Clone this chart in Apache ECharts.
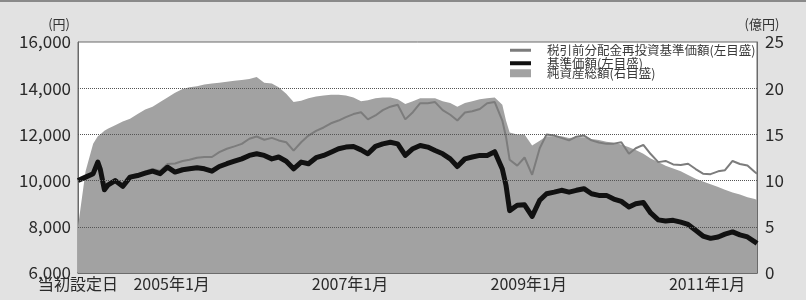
<!DOCTYPE html>
<html>
<head>
<meta charset="utf-8">
<script src="https://cdn.jsdelivr.net/npm/echarts@6/dist/echarts.min.js"></script>
<style>
  html, body { margin: 0; padding: 0; background: #e2e2e2; }
  #chart { width: 806px; height: 300px; }
</style>
</head>
<body>
<div id="chart"></div>
<script>
// 日付（月次＋主な転換点）
const dates = [
  '2003-12-15', '2004-01-15', '2004-02-15', '2004-03-05', '2004-03-15', '2004-04-01', '2004-04-15', '2004-05-15',
  '2004-06-15', '2004-07-15', '2004-08-15', '2004-09-15', '2004-10-15', '2004-11-15', '2004-12-15',
  '2005-01-15', '2005-02-15', '2005-03-15', '2005-04-15', '2005-05-15', '2005-06-15', '2005-07-15',
  '2005-08-15', '2005-09-15', '2005-10-15', '2005-11-15', '2005-12-15',
  '2006-01-15', '2006-02-15', '2006-03-15', '2006-04-15', '2006-05-15', '2006-06-15', '2006-07-15',
  '2006-08-15', '2006-09-15', '2006-10-15', '2006-11-15', '2006-12-15',
  '2007-01-15', '2007-02-15', '2007-03-15', '2007-04-15', '2007-05-15', '2007-06-15', '2007-07-15',
  '2007-08-15', '2007-09-15', '2007-10-15', '2007-11-15', '2007-12-15',
  '2008-01-15', '2008-02-15', '2008-03-15', '2008-04-15', '2008-05-15', '2008-06-15', '2008-07-15',
  '2008-08-15', '2008-09-15', '2008-09-30', '2008-10-15', '2008-11-15', '2008-12-15',
  '2009-01-15', '2009-02-15', '2009-03-15', '2009-04-15', '2009-05-15', '2009-06-15', '2009-07-15',
  '2009-08-15', '2009-09-15', '2009-10-15', '2009-11-15', '2009-12-15',
  '2010-01-15', '2010-02-15', '2010-03-15', '2010-04-15', '2010-05-15', '2010-06-15', '2010-07-15',
  '2010-08-15', '2010-09-15', '2010-10-15', '2010-11-15', '2010-12-15',
  '2011-01-15', '2011-02-15', '2011-03-15', '2011-04-15', '2011-05-15', '2011-06-15', '2011-07-15', '2011-07-24'
];

// 基準価額（円、左目盛）
const navValues = [
  10000, 10150, 10300, 10800, 10500, 9600, 9800, 10000,
  9750, 10150, 10220, 10320, 10410, 10300, 10580,
  10370, 10470, 10510, 10560, 10510, 10410, 10610,
  10730, 10840, 10940, 11090, 11160,
  11090, 10940, 11020, 10840, 10510, 10800, 10730,
  10990, 11090, 11230, 11380, 11450,
  11480, 11330, 11160, 11480, 11590, 11660, 11590,
  11090, 11380, 11520, 11450, 11300,
  11160, 10940, 10610, 10940, 11020, 11090, 11090,
  11250, 10500, 9800, 8700, 8930, 8950,
  8450, 9150, 9430, 9500, 9580, 9500, 9580,
  9650, 9430, 9360, 9360, 9200,
  9100, 8860, 9000, 9050, 8600, 8300, 8250,
  8280, 8200, 8100, 7850, 7600,
  7500, 7560, 7680, 7780, 7650, 7560, 7350, 7280
];

// 税引前分配金再投資基準価額（円、左目盛）
const reinvestValues = [
  10000, 10150, 10320, 10820, 10520, 9620, 9830, 10040,
  9800, 10200, 10280, 10400, 10500, 10420, 10720,
  10740, 10850, 10900, 10990, 11020, 11020, 11230,
  11380, 11480, 11590, 11810, 11910,
  11770, 11850, 11740, 11660, 11300, 11660, 11950,
  12150, 12300, 12480, 12600, 12750,
  12880, 12960, 12650, 12820, 13050, 13200, 13280,
  12650, 12960, 13350, 13350, 13400,
  13050, 12850, 12600, 12950, 13000, 13100, 13350,
  13400, 12600, 11900, 10900, 10650, 11000,
  10250, 11400, 12000, 11950, 11850, 11740, 11900,
  11950, 11740, 11650, 11590, 11600,
  11660, 11160, 11400, 11550, 11150, 10800, 10850,
  10700, 10680, 10730, 10500, 10300,
  10280, 10400, 10450, 10850, 10720, 10650, 10370, 10300
];

// 純資産総額（億円、右目盛）
const netAssets = [
  5.0, 11.0, 14.0, 14.8, 15.0, 15.4, 15.6, 16.0,
  16.4, 16.7, 17.2, 17.7, 18.0, 18.5, 19.0,
  19.5, 19.9, 20.1, 20.2, 20.4, 20.5, 20.6,
  20.7, 20.8, 20.9, 21.0, 21.2,
  20.6, 20.5, 20.1, 19.4, 18.5, 18.65, 18.9,
  19.1, 19.2, 19.3, 19.3, 19.2,
  19.0, 18.6, 18.7, 18.9, 19.0, 19.0, 18.8,
  18.3, 18.6, 18.9, 18.9, 18.9,
  18.6, 18.4, 18.0, 18.4, 18.6, 18.8, 18.9,
  19.0, 18.2, 16.5, 15.2, 15.0, 15.0,
  13.8, 14.3, 14.8, 14.8, 14.8, 14.6, 14.7,
  14.7, 14.5, 14.4, 14.2, 14.1,
  13.9, 13.6, 13.3, 12.9, 12.4, 12.0, 11.6,
  11.3, 11.0, 10.6, 10.2, 9.9,
  9.6, 9.3, 9.0, 8.7, 8.5, 8.2, 8.0, 7.9
];

// x軸ラベル
const xLabelDates = ['2003-12-15', '2005-01-01', '2007-01-01', '2009-01-01', '2011-01-01'];
const xLabelTexts = ['当初設定日', '2005年1月', '2007年1月', '2009年1月', '2011年1月'];
const xTickDates = ['2005-01-01', '2007-01-01', '2009-01-01', '2011-01-01'];
const xStart = '2003-12-15';
const xEnd = '2011-07-24';
// 目盛線（左目盛）
const gridValues = [8000, 10000, 12000, 14000];

const seriesNames = ['税引前分配金再投資基準価額(左目盛)', '基準価額(左目盛)', '純資産総額(右目盛)'];

const ts = d => echarts.number.parseDate(d).getTime();
const labelMap = {};
xLabelDates.forEach((d, i) => { labelMap[ts(d)] = xLabelTexts[i]; });

const FONT = '"Noto Sans CJK JP", sans-serif';
const chart = echarts.init(document.getElementById('chart'));

function legendRow(name, top, h) {
  return {
    data: [{ name: name, icon: 'rect' }],
    left: 510, top: top, padding: 0,
    itemWidth: 21, itemHeight: h, itemGap: 0,
    selectedMode: false,
    textStyle: { fontFamily: FONT, fontSize: 12.5, color: '#3a3a3a', padding: [0, 0, 0, 11] }
  };
}

chart.setOption({
  backgroundColor: '#e2e2e2',
  animation: false,
  graphic: [{
    type: 'rect', silent: true,
    shape: { x: 0, y: 0, width: 806, height: 2 },
    style: { fill: '#8a8a8a' }
  }],
  legend: [
    legendRow(seriesNames[0], 44, 3),
    legendRow(seriesNames[1], 57, 4),
    legendRow(seriesNames[2], 67, 8)
  ],
  grid: {
    left: 78, right: 49, top: 42, bottom: 27,
    show: true, backgroundColor: '#ffffff', borderColor: '#6a6a6a', borderWidth: 1
  },
  xAxis: {
    type: 'value',
    min: ts(xStart),
    max: ts(xEnd),
    axisLine: { show: true, lineStyle: { color: '#5a5a5a', width: 1.5 } },
    axisTick: {
      show: true, inside: true, length: 5,
      customValues: xTickDates.map(ts),
      lineStyle: { color: '#444', width: 1 }
    },
    axisLabel: {
      customValues: xLabelDates.map(ts),
      formatter: v => labelMap[v] || '',
      fontFamily: FONT, fontSize: 16, color: '#2a2a2a', margin: 3,
      showMinLabel: true, hideOverlap: false
    },
    splitLine: { show: false }
  },
  yAxis: [{
    type: 'value', min: 6000, max: 16000, interval: 2000,
    name: '(円)', nameLocation: 'end', nameGap: 11,
    nameTextStyle: { fontFamily: FONT, fontSize: 13, color: '#333', align: 'right', padding: [0, 8, 0, 0] },
    axisLine: { show: true, lineStyle: { color: '#6a6a6a' } },
    axisTick: { show: false },
    axisLabel: {
      fontFamily: FONT, fontSize: 17, color: '#2a2a2a', margin: 7,
      formatter: v => v.toLocaleString('en-US')
    },
    splitLine: { show: false }
  }, {
    type: 'value', min: 0, max: 25, interval: 5,
    name: '(億円)', nameLocation: 'end', nameGap: 11,
    nameTextStyle: { fontFamily: FONT, fontSize: 13, color: '#333', align: 'center', padding: [0, 0, 0, 10] },
    axisLine: { show: true, lineStyle: { color: '#6a6a6a' } },
    axisTick: { show: false },
    axisLabel: { fontFamily: FONT, fontSize: 17, color: '#2a2a2a', margin: 8 },
    splitLine: { show: false }
  }],
  series: [{
    name: seriesNames[2],
    type: 'line',
    yAxisIndex: 1,
    color: '#a2a2a2',
    symbol: 'none',
    lineStyle: { width: 0 },
    areaStyle: { color: '#a2a2a2', opacity: 1 },
    data: dates.map((d, i) => [ts(d), netAssets[i]])
  }, {
    name: seriesNames[0],
    type: 'line',
    color: '#7c7c7c',
    symbol: 'none',
    lineStyle: { width: 2, color: '#7c7c7c' },
    data: dates.map((d, i) => [ts(d), reinvestValues[i]]),
    markLine: {
      silent: true, symbol: ['none', 'none'],
      label: { show: false },
      lineStyle: { color: '#555555', type: 'dotted', width: 1 },
      data: gridValues.map(v => ({ yAxis: v }))
    }
  }, {
    name: seriesNames[1],
    type: 'line',
    color: '#111111',
    symbol: 'none',
    lineStyle: { width: 5, color: '#111111', join: 'round' },
    data: dates.map((d, i) => [ts(d), navValues[i]])
  }]
});
</script>
</body>
</html>
